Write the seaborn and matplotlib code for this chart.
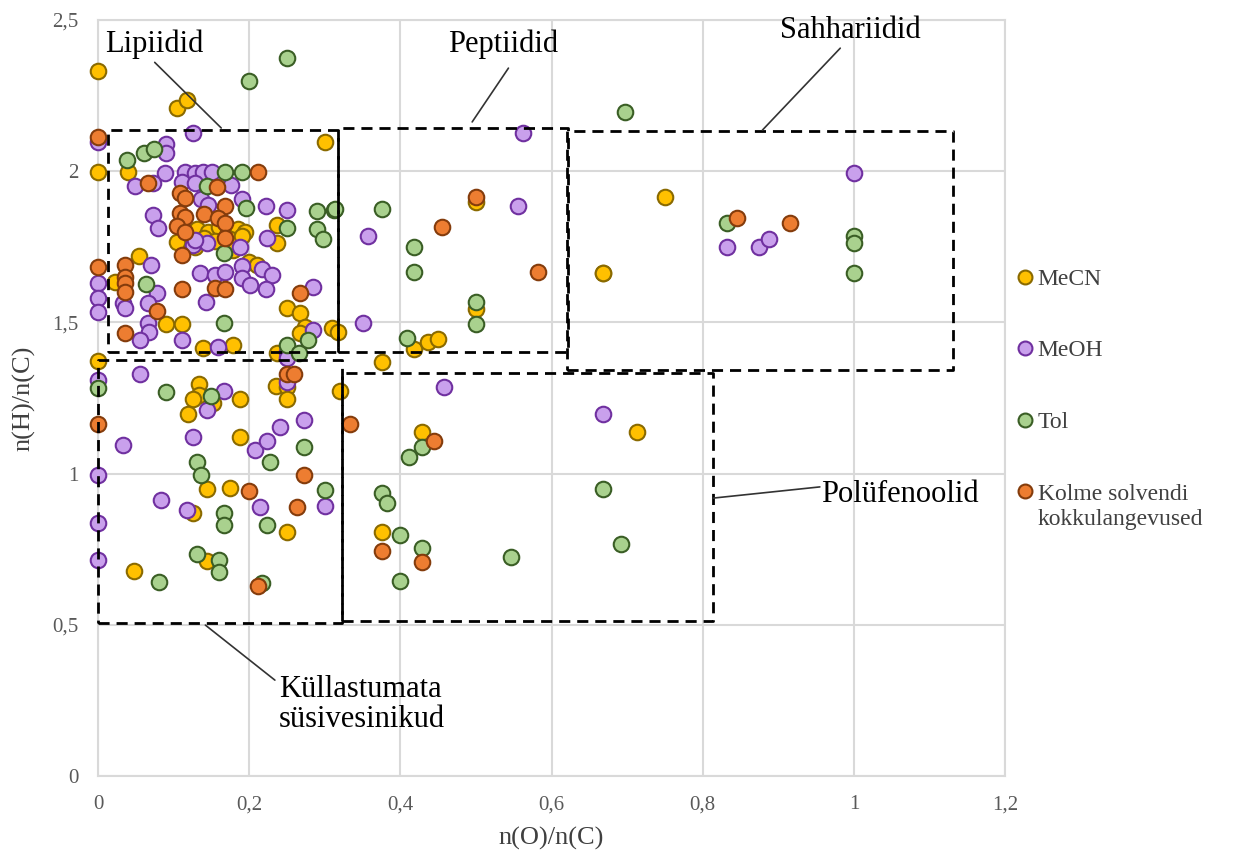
import matplotlib
matplotlib.use("Agg")
import matplotlib.pyplot as plt
from matplotlib.lines import Line2D
from matplotlib.ticker import FuncFormatter, MultipleLocator
import seaborn as sns
import pandas as pd

# O/C and H/C ratios per solvent extract
mecn_oc = [0, 0.105, 0.118, 0, 0.040, 0.300, 0.237, 0.105, 0.131, 0.145, 0.160, 0.172,
           0.185, 0.195, 0.140, 0.155, 0.175, 0.190, 0.128, 0.178, 0.200, 0.210, 0.237,
           0.054, 0.022, 0.090, 0.111, 0.139, 0.179, 0, 0.237, 0.250, 0.267, 0.310,
           0.318, 0.274, 0.267, 0.134, 0.134, 0.126, 0.152, 0.188, 0.119, 0.188, 0.144,
           0.175, 0.126, 0.250, 0.047, 0.144, 0.320, 0.236, 0.250, 0.250, 0.500, 0.668,
           0.500, 0.418, 0.437, 0.450, 0.376, 0.429, 0.713, 0.376, 0.750, 0.668]
mecn_hc = [2.331, 2.209, 2.235, 1.997, 1.997, 2.097, 1.822, 1.766, 1.810, 1.800, 1.815, 1.800,
           1.810, 1.800, 1.780, 1.770, 1.775, 1.785, 1.750, 1.740, 1.700, 1.690, 1.763,
           1.720, 1.634, 1.495, 1.495, 1.415, 1.425, 1.373, 1.400, 1.548, 1.531, 1.481,
           1.468, 1.485, 1.465, 1.296, 1.260, 1.247, 1.233, 1.247, 1.197, 1.121, 0.949,
           0.952, 0.870, 0.807, 0.678, 0.711, 1.273, 1.290, 1.286, 1.247, 1.898, 1.663,
           1.544, 1.412, 1.435, 1.445, 1.369, 1.138, 1.138, 0.806, 1.915, 1.663]

meoh_oc = [0, 0.126, 0.090, 0.090, 0.089, 0.115, 0.128, 0.139, 0.151, 0.049, 0.073, 0.111,
           0.128, 0.176, 0.136, 0.146, 0.191, 0.222, 0.073, 0.079, 0.126, 0.144, 0.128,
           0.224, 0.250, 0.188, 0, 0, 0, 0.070, 0.033, 0.036, 0.078, 0.066, 0.066, 0.067,
           0.056, 0.111, 0.135, 0.143, 0.155, 0.168, 0.191, 0.191, 0.201, 0.217, 0.230,
           0.222, 0.159, 0.284, 0.284, 0.250, 0.250, 0.562, 0.357, 0.556, 0.350, 0,
           0.056, 0.167, 0.144, 0.033, 0.126, 0, 0.083, 0.118, 0.214, 0.208, 0.224,
           0.241, 0.273, 0.300, 0, 0, 0.250, 0.458, 0.668, 1.000, 0.832, 0.875, 0.888]
meoh_hc = [2.097, 2.126, 2.090, 2.060, 1.994, 1.997, 1.994, 1.997, 1.997, 1.951, 1.961, 1.964,
           1.961, 1.954, 1.908, 1.888, 1.908, 1.885, 1.855, 1.812, 1.756, 1.763, 1.772,
           1.779, 1.872, 1.749, 1.630, 1.581, 1.534, 1.690, 1.564, 1.548, 1.597, 1.564,
           1.498, 1.468, 1.442, 1.442, 1.663, 1.567, 1.657, 1.667, 1.687, 1.647, 1.624,
           1.677, 1.657, 1.610, 1.419, 1.617, 1.475, 1.402, 1.382, 2.126, 1.786, 1.885,
           1.498, 1.310, 1.329, 1.273, 1.210, 1.095, 1.121, 0.995, 0.913, 0.880, 0.890,
           1.078, 1.108, 1.154, 1.177, 0.893, 0.837, 0.714, 1.303, 1.287, 1.197, 1.994,
           1.749, 1.749, 1.776]

tol_oc = [0.200, 0.250, 0.038, 0.061, 0.074, 0.168, 0.191, 0.144, 0.196, 0.250, 0.290, 0.312,
          0.290, 0.298, 0.167, 0.064, 0.167, 0.250, 0.266, 0.278, 0.314, 0.376, 0.418,
          0.418, 0.500, 0.500, 0.409, 0.697, 0, 0.090, 0.150, 0.131, 0.136, 0.167, 0.167,
          0.228, 0.273, 0.300, 0.224, 0.131, 0.160, 0.160, 0.081, 0.217, 0.429, 0.412,
          0.668, 0.376, 0.382, 0.400, 0.429, 0.400, 0.546, 0.692, 0.832, 1.000, 1.000, 1.000]
tol_hc = [2.298, 2.374, 2.037, 2.060, 2.073, 1.997, 1.997, 1.951, 1.878, 1.812, 1.868, 1.872,
          1.809, 1.776, 1.729, 1.627, 1.498, 1.425, 1.399, 1.442, 1.875, 1.875, 1.749,
          1.667, 1.568, 1.495, 1.448, 2.196, 1.283, 1.270, 1.257, 1.038, 0.995, 0.870,
          0.830, 1.038, 1.088, 0.946, 0.830, 0.734, 0.714, 0.675, 0.640, 0.638, 1.088,
          1.055, 0.949, 0.936, 0.903, 0.797, 0.754, 0.645, 0.724, 0.767, 1.829, 1.786,
          1.763, 1.663]

common_oc = [0, 0.066, 0.212, 0.157, 0.108, 0.115, 0.168, 0.108, 0.115, 0.140, 0.159, 0.168,
             0.105, 0.115, 0.168, 0, 0.036, 0.036, 0.036, 0.036, 0.111, 0.111, 0.155, 0.168,
             0.078, 0.036, 0.267, 0.250, 0.259, 0, 0.200, 0.273, 0.263, 0.212, 0.333, 0.445,
             0.376, 0.429, 0.455, 0.500, 0.582, 0.845, 0.916]
common_hc = [2.113, 1.961, 1.997, 1.948, 1.928, 1.911, 1.885, 1.862, 1.849, 1.858, 1.845, 1.829,
             1.819, 1.799, 1.779, 1.683, 1.690, 1.650, 1.630, 1.601, 1.723, 1.610, 1.614, 1.610,
             1.538, 1.465, 1.597, 1.329, 1.329, 1.164, 0.942, 0.995, 0.890, 0.628, 1.164, 1.109,
             0.744, 0.708, 1.816, 1.915, 1.667, 1.845, 1.829]

series_names = ["MeCN", "MeOH", "Tol", "Kolme solvendi\nkokkulangevused"]
face_colors = ["#FFC000", "#C9A0EC", "#A9D18E", "#ED7D31"]
edge_colors = ["#8A6A00", "#7030A0", "#3A5E25", "#843C0C"]

# Compound class regions: (label, x0, x1, y0, y1)
regions = [
    ("Lipiidid", 0.013, 0.318, 1.402, 2.136),
    ("Peptiidid", 0.318, 0.622, 1.402, 2.143),
    ("Sahhariidid", 0.621, 1.131, 1.343, 2.133),
    ("Küllastumata\nsüsivesinikud", 0.0, 0.323, 0.506, 1.376),
    ("Polüfenoolid", 0.323, 0.814, 0.513, 1.333),
]
# Region labels: text position and leader line (start, end)
label_pos = [(0.009, 2.42), (0.463, 2.42), (0.996, 2.467), (0.239, 0.335), (0.956, 0.93)]
leader_lines = [((0.075, 2.36), (0.163, 2.143)),
                ((0.543, 2.341), (0.495, 2.163)),
                ((0.982, 2.407), (0.879, 2.136)),
                ((0.234, 0.317), (0.142, 0.499)),
                ((0.814, 0.919), (0.955, 0.956))]

frames = []
for name, xs, ys in zip(series_names, [mecn_oc, meoh_oc, tol_oc, common_oc],
                        [mecn_hc, meoh_hc, tol_hc, common_hc]):
    frames.append(pd.DataFrame({"oc": xs, "hc": ys, "series": name}))
df = pd.concat(frames, ignore_index=True)

sns.set_theme(style="white")
plt.rcParams["font.family"] = ["Liberation Serif", "DejaVu Serif"]

fig = plt.figure(figsize=(12.44, 8.60), dpi=100)
ax = fig.add_axes([0.0788, 0.0977, 0.7291, 0.879])

for name, fc, ec in zip(series_names, face_colors, edge_colors):
    sub = df[df["series"] == name]
    sns.scatterplot(data=sub, x="oc", y="hc", ax=ax, s=125, color=fc,
                    edgecolor=ec, linewidth=1.5, legend=False, zorder=3,
                    clip_on=False)

# dashed compound-class boxes
for (lab, x0, x1, y0, y1) in regions:
    ax.plot([x0, x1, x1, x0, x0], [y0, y0, y1, y1, y0], color="black",
            linestyle=(0, (4, 2.5)), linewidth=2, zorder=4, clip_on=False)

for (lab, *_), (tx, ty), (p0, p1) in zip(regions, label_pos, leader_lines):
    ax.plot([p0[0], p1[0]], [p0[1], p1[1]], color="#333333", linewidth=1.2, zorder=4)
    ha = "left"
    va = "center"
    if lab.startswith("Küll"):
        va = "top"
    if lab == "Sahhariidid":
        ha = "center"
    ax.text(tx, ty, lab, fontsize=22, ha=ha, va=va, color="black", zorder=5,
            linespacing=1.05)

ax.set_xlim(0, 1.2)
ax.set_ylim(0, 2.5)
ax.xaxis.set_major_locator(MultipleLocator(0.2))
ax.yaxis.set_major_locator(MultipleLocator(0.5))

def comma_fmt(v, pos):
    s = f"{v:.1f}"
    if s.endswith(".0"):
        s = s[:-2]
    return s.replace(".", ",")

ax.xaxis.set_major_formatter(FuncFormatter(comma_fmt))
ax.yaxis.set_major_formatter(FuncFormatter(comma_fmt))
ax.grid(True, color="#D9D9D9", linewidth=1.5, zorder=0)
ax.set_axisbelow(True)
for sp in ax.spines.values():
    sp.set_color("#D9D9D9")
    sp.set_linewidth(1.5)
ax.tick_params(axis="x", labelsize=15, colors="#595959", length=0, pad=14)
ax.tick_params(axis="y", labelsize=15, colors="#595959", length=0, pad=14)
ax.set_xlabel("n(O)/n(C)", fontsize=19, color="#404040", labelpad=9)
ax.set_ylabel("n(H)/n(C)", fontsize=19, color="#404040", labelpad=12)

handles = [Line2D([0], [0], marker="o", linestyle="none", markersize=10,
                  markerfacecolor=fc, markeredgecolor=ec, markeredgewidth=1.5)
           for fc, ec in zip(face_colors, edge_colors)]
first_lines = [n.split("\n")[0] for n in series_names]
leg = ax.legend(handles, first_lines, loc="upper left", bbox_to_anchor=(1.001, 0.684),
                borderaxespad=0, frameon=False, fontsize=17, labelspacing=2.12,
                handletextpad=0.15, handlelength=0.8)
for t in leg.get_texts():
    t.set_color("#404040")

# second line of the last legend label, aligned under its first line
fig.canvas.draw()
last = leg.get_texts()[-1]
bb = last.get_window_extent(renderer=fig.canvas.get_renderer())
inv = fig.transFigure.inverted()
x0, y0 = inv.transform((bb.x0, bb.y0))
fig.text(x0, y0 - 4 / 860, series_names[-1].split("\n")[1], fontsize=17,
         color="#404040", ha="left", va="top")

fig.savefig("out.png", dpi=100, facecolor="white")
